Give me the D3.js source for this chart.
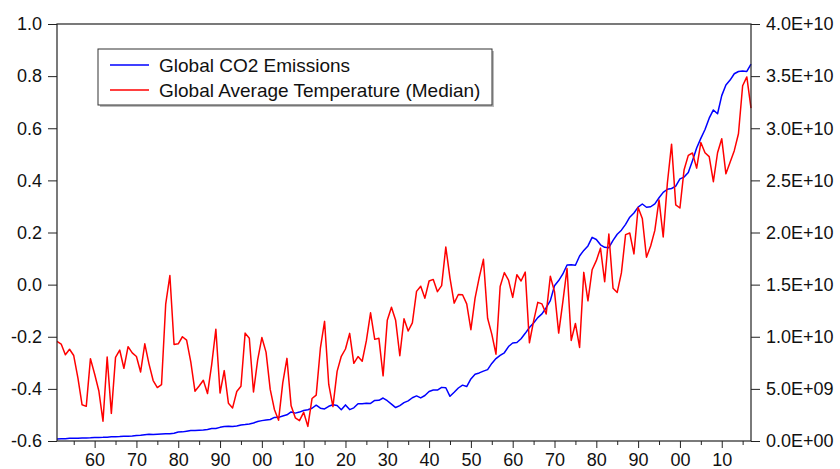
<!DOCTYPE html>
<html>
<head>
<meta charset="utf-8">
<script src="https://cdn.jsdelivr.net/npm/d3@7"></script>
<style>
  html, body { margin: 0; padding: 0; background: #fff; }
  svg { display: block; font-family: "Liberation Sans", Arial, Helvetica, sans-serif; }
</style>
</head>
<body>
<svg id="chart" width="840" height="469"></svg>
<script>
// Annual observations, 1851-2017
const years = d3.range(1851, 2018);

// Global average temperature anomaly (median), deg C
const temperature = [
  -0.218, -0.228, -0.269, -0.248, -0.272, -0.358, -0.461, -0.467, -0.284,
  -0.343, -0.407, -0.524, -0.278, -0.494, -0.279, -0.251, -0.321, -0.238, -0.262,
  -0.276, -0.335, -0.227, -0.304, -0.368, -0.395, -0.384, -0.075, 0.035, -0.230,
  -0.227, -0.200, -0.213, -0.296, -0.409, -0.389, -0.367, -0.418, -0.307, -0.171,
  -0.416, -0.330, -0.455, -0.473, -0.410, -0.390, -0.186, -0.206, -0.412, -0.289,
  -0.203, -0.259, -0.402, -0.479, -0.520, -0.377, -0.283, -0.465, -0.511, -0.522,
  -0.490, -0.544, -0.437, -0.424, -0.244, -0.141, -0.383, -0.468, -0.333, -0.275,
  -0.247, -0.187, -0.302, -0.276, -0.294, -0.215, -0.108, -0.210, -0.206, -0.350,
  -0.137, -0.087, -0.137, -0.273, -0.131, -0.178, -0.147, -0.026, -0.006, -0.052,
  0.014, 0.020, -0.027, -0.004, 0.144, 0.025, -0.071, -0.038, -0.039, -0.074,
  -0.173, -0.052, 0.028, 0.097, -0.129, -0.190, -0.267, -0.007, 0.046, 0.017,
  -0.049, 0.038, 0.014, 0.048, -0.223, -0.140, -0.068, -0.074, -0.113, 0.032,
  -0.027, -0.186, -0.065, 0.062, -0.214, -0.149, -0.241, 0.047, -0.062, 0.057,
  0.092, 0.140, 0.011, 0.194, -0.014, -0.030, 0.045, 0.192, 0.198, 0.118,
  0.296, 0.254, 0.105, 0.148, 0.208, 0.325, 0.183, 0.390, 0.539, 0.306,
  0.294, 0.441, 0.496, 0.505, 0.447, 0.545, 0.506, 0.491, 0.395, 0.506,
  0.560, 0.425, 0.470, 0.514, 0.579, 0.763, 0.797, 0.677
];

// Global CO2 emissions, billions of tonnes
const co2Billions = [
  0.198, 0.207, 0.217, 0.255, 0.259, 0.270, 0.276, 0.282, 0.302,
  0.334, 0.347, 0.351, 0.371, 0.398, 0.418, 0.429, 0.459, 0.462, 0.484,
  0.533, 0.548, 0.605, 0.646, 0.625, 0.657, 0.671, 0.693, 0.701, 0.748,
  0.854, 0.876, 0.936, 1.000, 1.012, 1.031, 1.045, 1.102, 1.208, 1.207,
  1.309, 1.385, 1.403, 1.394, 1.442, 1.531, 1.573, 1.637, 1.731, 1.868,
  1.955, 2.015, 2.065, 2.260, 2.268, 2.396, 2.512, 2.790, 2.675, 2.774,
  2.925, 2.995, 3.140, 3.433, 3.148, 3.077, 3.326, 3.474, 3.406, 2.999,
  3.464, 3.010, 3.181, 3.578, 3.571, 3.626, 3.608, 3.893, 3.903, 4.124,
  3.864, 3.533, 3.209, 3.398, 3.680, 3.846, 4.150, 4.323, 4.133, 4.365,
  4.753, 4.884, 4.885, 5.144, 5.106, 4.288, 4.673, 5.084, 5.358, 5.224,
  5.949, 6.405, 6.529, 6.704, 6.848, 7.443, 7.907, 8.204, 8.463, 9.060,
  9.400, 9.442, 9.813, 10.329, 10.884, 11.313, 11.835, 12.190, 12.783, 13.467,
  14.899, 15.391, 16.024, 16.885, 16.906, 16.856, 17.748, 18.283, 18.713, 19.531,
  19.327, 18.821, 18.580, 18.541, 19.245, 19.833, 20.224, 20.784, 21.470, 21.871,
  22.432, 22.734, 22.419, 22.469, 22.752, 23.331, 23.848, 24.148, 24.224, 24.440,
  25.138, 25.318, 25.759, 26.892, 28.102, 29.025, 29.885, 30.964, 31.755, 31.390,
  33.131, 34.155, 34.619, 35.225, 35.443, 35.480, 35.452, 36.153
];

const seriesNames = ["Global CO2 Emissions", "Global Average Temperature (Median)"];

// Axis ticks
const leftTicks = [-0.6, -0.4, -0.2, 0.0, 0.2, 0.4, 0.6, 0.8, 1.0];
const rightTicks = [0, 5e9, 1e10, 1.5e10, 2e10, 2.5e10, 3e10, 3.5e10, 4e10];
const majorYears = d3.range(1860, 2011, 10);
const minorYears = d3.range(1855, 2016, 10);

const svg = d3.select("#chart");
const plotL = 57, plotR = 751, plotT = 24, plotB = 441;

const x = d3.scaleLinear().domain([1851, 2017]).range([plotL, plotR]);
const yL = d3.scaleLinear().domain([-0.6, 1.0]).range([plotB, plotT]);
const yR = d3.scaleLinear().domain([0, 4e10]).range([plotB, plotT]);

const axisColor = "#222";
const fontSize = 18;

function sciLabel(v) {
  if (v === 0) return "0.0E+00";
  const e = Math.floor(Math.log10(v));
  const m = v / Math.pow(10, e);
  return m.toFixed(1) + "E" + (e >= 0 ? "+" : "-") + String(Math.abs(e)).padStart(2, "0");
}

function styleAxis(g) {
  g.select(".domain").remove();
  g.selectAll(".tick line").attr("stroke", axisColor).attr("stroke-width", 1);
  g.selectAll(".tick text").attr("fill", "#111").attr("font-size", fontSize)
    .attr("font-family", '"Liberation Sans", Arial, sans-serif');
}

// Left axis (temperature)
svg.append("g")
  .attr("transform", `translate(${plotL},0)`)
  .call(d3.axisLeft(yL).tickValues(leftTicks).tickSize(9).tickPadding(6)
    .tickFormat(d => d.toFixed(1)))
  .call(styleAxis);

// Right axis (emissions)
svg.append("g")
  .attr("transform", `translate(${plotR},0)`)
  .call(d3.axisRight(yR).tickValues(rightTicks).tickSize(9).tickPadding(6)
    .tickFormat(sciLabel))
  .call(styleAxis);

// Bottom axis: major ticks with two-digit year labels, minor ticks between
const xMajor = svg.append("g")
  .attr("transform", `translate(0,${plotB})`)
  .call(d3.axisBottom(x).tickValues(majorYears).tickSize(7).tickPadding(0)
    .tickFormat(d => String(d % 100).padStart(2, "0")))
  .call(styleAxis);
xMajor.selectAll(".tick text").attr("dy", null).attr("y", 25);

svg.append("g")
  .attr("transform", `translate(0,${plotB})`)
  .call(d3.axisBottom(x).tickValues(minorYears).tickSize(4).tickFormat(""))
  .call(styleAxis);

// Data lines
const temps = years.map((yr, i) => ({ yr, v: temperature[i] }));
const emis = years.map((yr, i) => ({ yr, v: co2Billions[i] * 1e9 }));

svg.append("path")
  .datum(emis)
  .attr("fill", "none")
  .attr("stroke", "#0000ff")
  .attr("stroke-width", 1.5)
  .attr("stroke-linejoin", "round")
  .attr("d", d3.line().x(d => x(d.yr)).y(d => yR(d.v)));

svg.append("path")
  .datum(temps)
  .attr("fill", "none")
  .attr("stroke", "#ff0000")
  .attr("stroke-width", 1.5)
  .attr("stroke-linejoin", "round")
  .attr("d", d3.line().x(d => x(d.yr)).y(d => yL(d.v)));

// Plot frame
svg.append("rect")
  .attr("x", plotL).attr("y", plotT)
  .attr("width", plotR - plotL).attr("height", plotB - plotT)
  .attr("fill", "none").attr("stroke", axisColor).attr("stroke-width", 1.2);

// Legend
const lg = svg.append("g").attr("transform", "translate(98,49)");
const lgW = 394, lgH = 56;
lg.append("rect").attr("x", 2).attr("y", 2).attr("width", lgW).attr("height", lgH)
  .attr("fill", "#bbb");
lg.append("rect").attr("x", 0).attr("y", 0).attr("width", lgW).attr("height", lgH)
  .attr("fill", "#fff").attr("stroke", "#333").attr("stroke-width", 1);

const legendColors = ["#0000ff", "#ff0000"];
seriesNames.forEach((name, i) => {
  const cy = 16 + i * 25;
  lg.append("line")
    .attr("x1", 12).attr("x2", 51).attr("y1", cy).attr("y2", cy)
    .attr("stroke", legendColors[i]).attr("stroke-width", 1.5);
  lg.append("text")
    .attr("x", 61).attr("y", cy + 6.5)
    .attr("font-size", 19).attr("fill", "#111")
    .text(name);
});
</script>
</body>
</html>
